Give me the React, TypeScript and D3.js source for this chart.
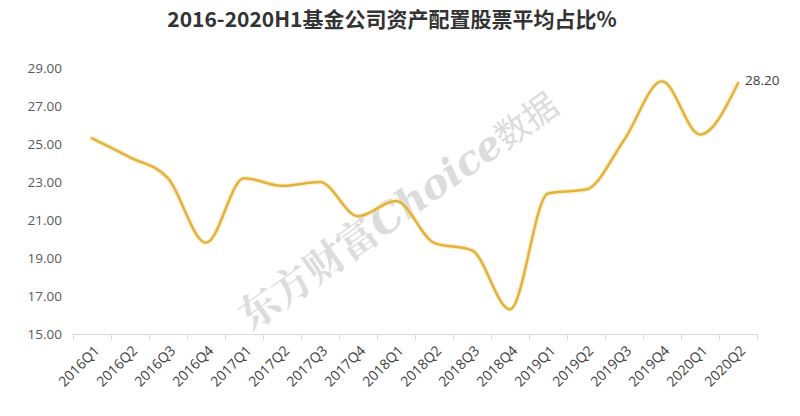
import React from "react";
import * as d3 from "d3";

const categories = [
  "2016Q1", "2016Q2", "2016Q3", "2016Q4",
  "2017Q1", "2017Q2", "2017Q3", "2017Q4",
  "2018Q1", "2018Q2", "2018Q3", "2018Q4",
  "2019Q1", "2019Q2", "2019Q3", "2019Q4",
  "2020Q1", "2020Q2",
];
const values = [
  25.3, 24.3, 23.2, 19.8,
  23.2, 22.8, 23.0, 21.2,
  22.0, 19.8, 19.4, 16.3,
  22.4, 22.6, 25.2, 28.3,
  25.5, 28.2,
];
const yTicks = [15, 17, 19, 21, 23, 25, 27, 29];
const title = "2016-2020H1基金公司资产配置股票平均占比%";
const watermark = ["东方财富", "Choice", "数据"];

const W = 800;
const H = 416;
const left = 73;
const right = 757;
const top = 68;
const bottom = 334;

export default function App() {
  const x = d3.scaleBand<string>().domain(categories).range([left, right]);
  const y = d3.scaleLinear().domain([15, 29]).range([bottom, top]);
  const cx = (c: string) => (x(c) as number) + x.bandwidth() / 2;
  const line = d3
    .line<number>()
    .x((_, i) => cx(categories[i]))
    .y((d) => y(d))
    .curve(d3.curveMonotoneX);
  const path = line(values) || "";
  const lastIdx = values.length - 1;
  const tickFont = "'Open Sans', 'Noto Sans', sans-serif";

  return (
    <svg
      width={W}
      height={H}
      style={{ position: "absolute", left: 0, top: 0, background: "#fff" }}
    >
      <rect x={0} y={0} width={W} height={H} fill="#fff" />
      <text
        x={392}
        y={27}
        textAnchor="middle"
        fontFamily="'Noto Sans CJK SC', sans-serif"
        fontWeight="bold"
        fontSize={21}
        fill="#333"
      >
        {title}
      </text>

      {/* watermark */}
      <g transform="translate(398,210) rotate(-35.5)" fill="#d4d4d4" opacity={0.8}>
        <text textAnchor="middle" dy="0.35em" fontWeight="bold" fontSize={40}>
          <tspan fontFamily="'Noto Serif CJK SC', 'Noto Sans CJK SC', serif">{watermark[0]}</tspan>
          <tspan fontFamily="'DejaVu Serif', serif" fontStyle="italic">{watermark[1]}</tspan>
          <tspan fontFamily="'Noto Sans CJK SC', sans-serif" fontSize={34} fontWeight="normal">{watermark[2]}</tspan>
        </text>
      </g>

      {/* y labels */}
      {yTicks.map((t) => (
        <text
          key={t}
          x={62}
          y={y(t)}
          dy="0.35em"
          textAnchor="end"
          fontFamily={tickFont}
          fontSize={13.5}
          fill="#595959"
        >
          {t.toFixed(2)}
        </text>
      ))}

      {/* x axis */}
      <line x1={left} x2={right} y1={bottom + 0.5} y2={bottom + 0.5} stroke="#d9d9d9" strokeWidth={1} />
      {categories.concat(["__end"]).map((c, i) => {
        const px = i < categories.length ? (x(c) as number) : right;
        return (
          <line
            key={c}
            x1={px + 0.5}
            x2={px + 0.5}
            y1={bottom}
            y2={bottom + 6}
            stroke="#d9d9d9"
          />
        );
      })}
      {categories.map((c) => (
        <text
          key={c}
          transform={`translate(${cx(c) + 5},${bottom + 14}) rotate(-45)`}
          textAnchor="end"
          dy="0.35em"
          fontFamily={tickFont}
          fontSize={14}
          fill="#404040"
        >
          {c}
        </text>
      ))}

      {/* line */}
      <path d={path} fill="none" stroke="#f7e3a6" strokeWidth={5} strokeLinecap="round" opacity={0.5} />
      <path d={path} fill="none" stroke="#e3b23c" strokeWidth={2.5} strokeLinecap="round" />

      <text
        x={cx(categories[lastIdx]) + 7}
        y={y(values[lastIdx])}
        dy="0.1em"
        fontFamily={tickFont}
        fontSize={13.5}
        fill="#404040"
      >
        {values[lastIdx].toFixed(2)}
      </text>
    </svg>
  );
}
